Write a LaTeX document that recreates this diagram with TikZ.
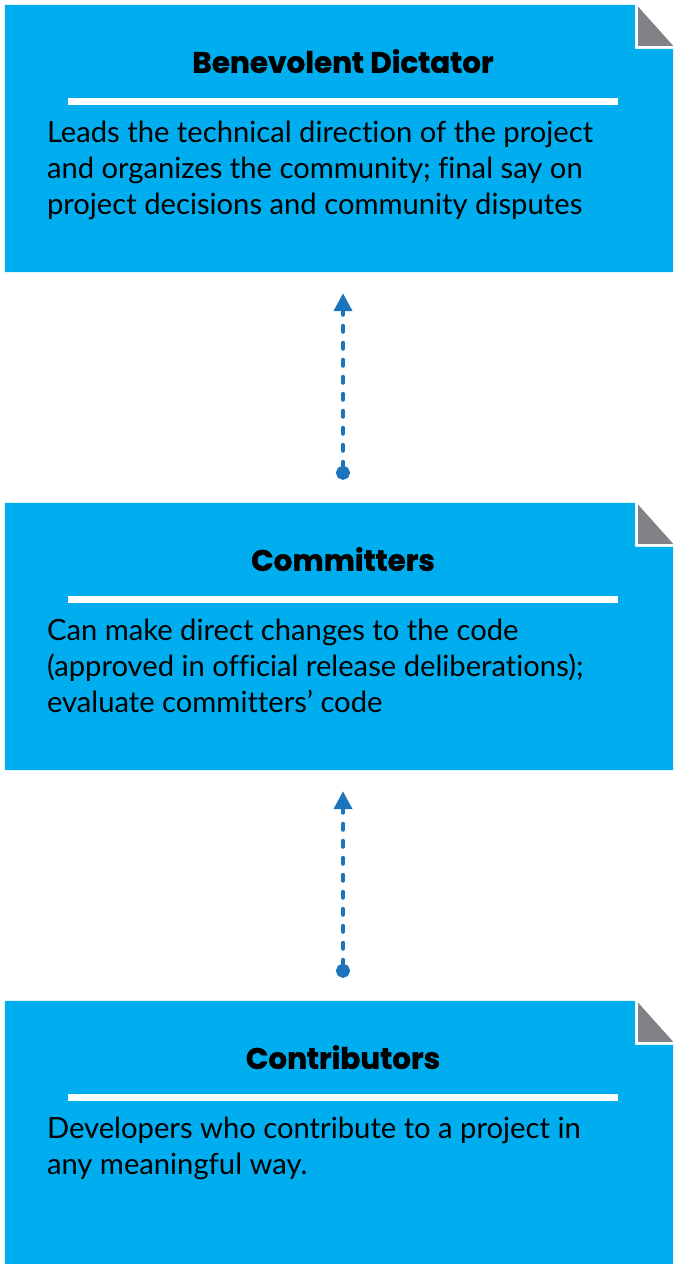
\documentclass[tikz,border=0pt]{standalone}
\usepackage{fontspec}
\setmainfont{Lato}[Ligatures=NoCommon]
\newfontfamily\titlefont{Poppins}[BoldFeatures={FakeBold=1.2}]
\usetikzlibrary{arrows.meta}
\definecolor{boxblue}{HTML}{00AEEF}
\definecolor{foldgray}{HTML}{808285}
\definecolor{arrowblue}{HTML}{1C75BC}
\tikzset{
  boxbase/.style={draw=none, inner sep=0pt, minimum width=668pt},
  titletext/.style={anchor=base, inner sep=0pt, font=\titlefont\bfseries\fontsize{29.5}{32}\selectfont},
  bodytext/.style={anchor=base west, inner sep=0pt, font=\fontsize{29.2}{36}\selectfont},
  rulebar/.style={draw=white, line width=7pt},
  conn/.style={draw=arrowblue, line width=4pt, dash pattern=on 6pt off 11pt, line cap=round,
    {Circle[length=14pt]}-{Triangle[width=18pt,length=18pt]}},
}
\newcommand\foldbox[1]{%
  \fill[boxblue] (#1.south west) |- ([xshift=-38pt]#1.north east)
     -- ([xshift=-38pt,yshift=-44pt]#1.north east) -| (#1.south east) -- cycle;
  \fill[foldgray] ([xshift=-35pt,yshift=-2pt]#1.north east)
     -- ([xshift=-35pt,yshift=-41pt]#1.north east) -- ([yshift=-41pt]#1.north east) -- cycle;
  \draw[rulebar] ([xshift=63pt,yshift=-96.5pt]#1.north west) -- ([xshift=613pt,yshift=-96.5pt]#1.north west);
}
\begin{document}
\begin{tikzpicture}[x=1pt,y=1pt]
\useasboundingbox (0,0) rectangle (673,1264);
\node[boxbase, minimum height=267pt] (b1) at (339,1125.5) {};
\node[boxbase, minimum height=267pt] (b2) at (339,627.5) {};
\node[boxbase, minimum height=263pt] (b3) at (339,131.5) {};
\foldbox{b1}
\foldbox{b2}
\foldbox{b3}
\node[titletext] (t1) at ([xshift=4pt,yshift=-68pt]b1.north) {Benevolent Dictator};
\node[titletext] (t2) at ([xshift=4pt,yshift=-68pt]b2.north) {Committers};
\node[titletext] (t3) at ([xshift=4pt,yshift=-68pt]b3.north) {Contributors};
\node[bodytext] (x1) at ([xshift=42pt,yshift=-138pt]b1.north west)
  {\parbox[t]{620pt}{Leads the technical direction of the project\\and organizes the community; final say on\\project decisions and community disputes}};
\node[bodytext] (x2) at ([xshift=42pt,yshift=-138pt]b2.north west)
  {\parbox[t]{620pt}{Can make direct changes to the code\\(approved in official release deliberations);\\evaluate committers’ code}};
\node[bodytext] (x3) at ([xshift=42pt,yshift=-138pt]b3.north west)
  {\parbox[t]{620pt}{Developers who contribute to a project in\\any meaningful way.}};
\coordinate (d1) at ([xshift=4pt,yshift=23pt]b2.north);
\coordinate (a1) at ([xshift=4pt,yshift=-21pt]b1.south);
\coordinate (d2) at ([xshift=4pt,yshift=23pt]b3.north);
\coordinate (a2) at ([xshift=4pt,yshift=-21pt]b2.south);
\draw[conn] (d1) -- (a1);
\draw[conn] (d2) -- (a2);
\end{tikzpicture}
\end{document}
